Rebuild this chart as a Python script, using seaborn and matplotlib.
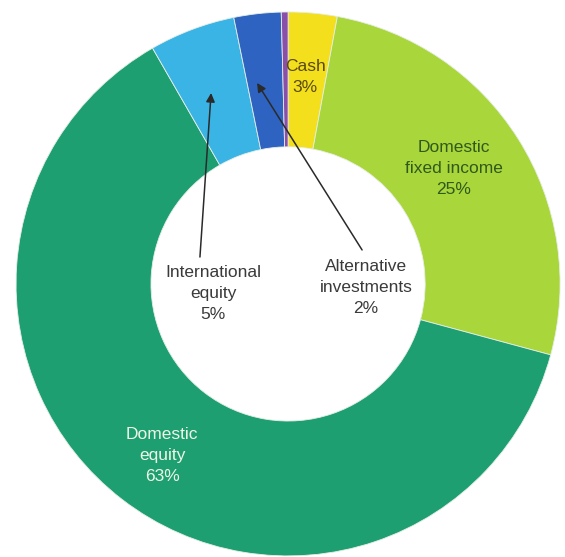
import matplotlib
matplotlib.use("Agg")
import matplotlib.pyplot as plt
import seaborn as sns

# data (clockwise from 12 o'clock), wedge sizes
categories = ["Cash", "Domestic fixed income", "Domestic equity",
              "International equity", "Alternative investments", "Other"]
shares = [2.9, 26.3, 62.5, 5.1, 2.8, 0.4]
label_text = ["Cash\n3%", "Domestic\nfixed income\n25%", "Domestic\nequity\n63%",
              "International\nequity\n5%", "Alternative\ninvestments\n2%"]
colors = ["#f3df1c", "#a9d63a", "#1d9f72", "#3ab4e4", "#2e63c2", "#8a4fa8"]

sns.set_theme(style="white")
plt.rcParams["font.family"] = ["Liberation Sans", "DejaVu Sans"]

fig = plt.figure(figsize=(5.65, 5.57), dpi=100)
ax = fig.add_axes([0, 0, 1, 1])

ax.pie(shares, colors=colors, startangle=90, counterclock=False,
       radius=1.0,
       wedgeprops=dict(width=0.496, edgecolor="#e6eee6", linewidth=0.6))

fs = 12.5
ls = 1.5
txt = "#3a3a3a"
# label positions and colours
label_pos = [(0.063, 0.76), (0.61, 0.426), (-0.463, -0.629),
             (-0.276, -0.035), (0.287, -0.013)]
label_col = ["#5a4a12", "#2f5a1c", "#eef7e6", txt, txt]
for t, (x, y), c in zip(label_text, label_pos, label_col):
    ax.text(x, y, t, ha="center", va="center", fontsize=fs, color=c,
            linespacing=ls)

arrow = dict(arrowstyle="-|>", color="#2a2a2a", lw=1.1, mutation_scale=13,
             shrinkA=0, shrinkB=0)
ax.annotate("", xy=(-0.283, 0.702), xytext=(-0.324, 0.099), arrowprops=arrow)
ax.annotate("", xy=(-0.114, 0.739), xytext=(0.272, 0.125), arrowprops=arrow)

ax.set_xlim(-1.059, 1.018)
ax.set_ylim(-1.004, 1.044)
ax.set_aspect("auto")
ax.axis("off")

fig.savefig("out.png", dpi=100, facecolor="white")
